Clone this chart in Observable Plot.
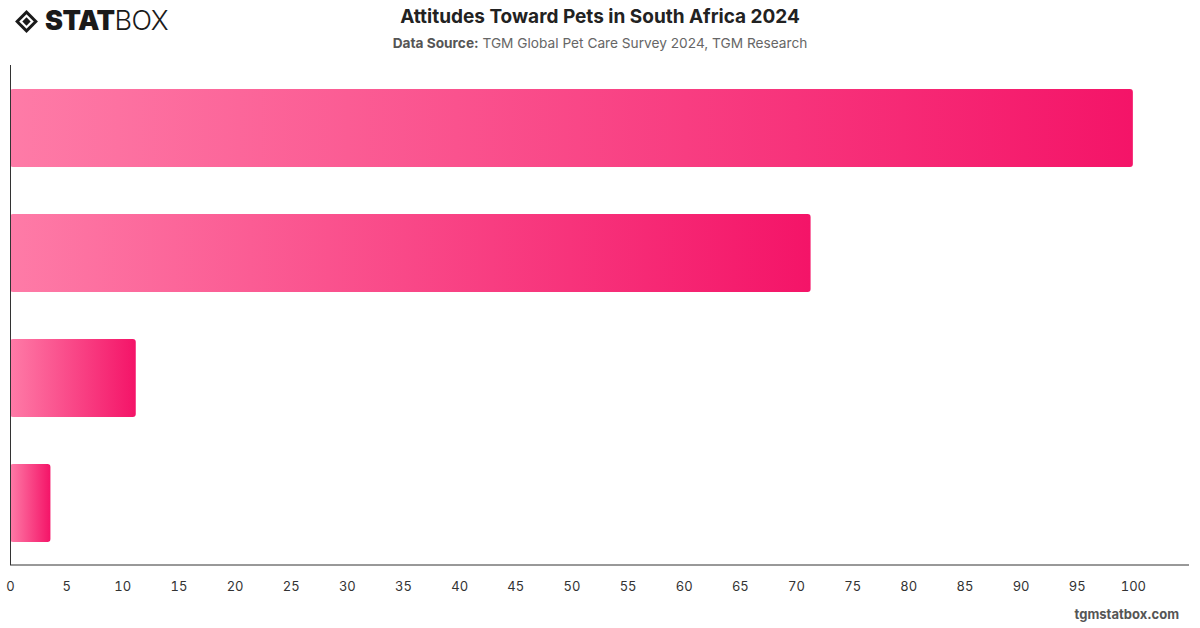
<!DOCTYPE html>
<html>
<head>
<meta charset="utf-8">
<script src="https://cdn.jsdelivr.net/npm/d3@7"></script>
<script src="https://cdn.jsdelivr.net/npm/@observablehq/plot@0.6"></script>
<style>
  html, body { margin: 0; padding: 0; background: #fff; width: 1200px; height: 628px; overflow: hidden; font-family: Inter, "Liberation Sans", sans-serif; }
  #wrap { position: relative; width: 1200px; height: 628px; }
  #logo { position: absolute; left: 14px; top: 7px; display: flex; align-items: center; }
  #logo .word { font-size: 27px; line-height: 28px; color: #1a1a1a; letter-spacing: -0.5px; margin-left: 6px; }
  #logo .word b { font-weight: 900; }
  #logo .word span { font-weight: 300; }
  #title { position: absolute; top: 5px; left: 0; width: 1200px; text-align: center; font-size: 19px; font-weight: 700; color: #222; }
  #subtitle { position: absolute; top: 35px; left: 0; width: 1200px; text-align: center; font-size: 13.7px; color: #666; }
  #subtitle b { font-weight: 700; color: #555; }
  #chart { position: absolute; top: 60px; left: 0; }
  #footer { position: absolute; top: 606px; right: 21px; font-size: 13px; font-weight: 700; color: #555; }
</style>
</head>
<body>
<div id="wrap">
  <div id="logo">
    <svg width="25" height="25" viewBox="0 0 24 24">
      <path d="M12 1 L23 12 L12 23 L1 12 Z" fill="#1a1a1a"/>
      <path d="M12 5 L19 12 L12 19 L5 12 Z" fill="#fff"/>
      <path d="M12 8 L16 12 L12 16 L8 12 Z" fill="#1a1a1a"/>
    </svg>
    <div class="word"><b>STAT</b><span>BOX</span></div>
  </div>
  <div id="title">Attitudes Toward Pets in South Africa 2024</div>
  <div id="subtitle"><b>Data Source:</b> TGM Global Pet Care Survey 2024, TGM Research</div>
  <div id="chart"></div>
  <div id="footer">tgmstatbox.com</div>
</div>
<script>
const categories = ["Statement 1", "Statement 2", "Statement 3", "Statement 4"];
const values = [100, 71.3, 11.2, 3.6];
const xTicks = [0, 5, 10, 15, 20, 25, 30, 35, 40, 45, 50, 55, 60, 65, 70, 75, 80, 85, 90, 95, 100];

const data = categories.map((c, i) => ({category: c, value: values[i]}));

const chart = Plot.plot({
  width: 1200,
  height: 540,
  marginTop: 5,
  marginBottom: 35,
  marginLeft: 10,
  marginRight: 11,
  style: {fontFamily: "Inter, 'Liberation Sans', sans-serif", fontSize: "13px", color: "#333", background: "transparent"},
  x: {domain: [0, 105], ticks: xTicks, tickSize: 0, tickPadding: 16, label: null},
  y: {domain: categories, paddingInner: 0.376, paddingOuter: 0.188, axis: null, label: null},
  marks: [
    Plot.barX(data, {x: "value", y: "category", fill: "url(#barGrad)", rx: 3}),
    Plot.ruleX([0], {stroke: "#333", strokeWidth: 1})
  ]
});

const svg = d3.select(chart);
const defs = svg.insert("defs", ":first-child");
const g = defs.append("linearGradient").attr("id", "barGrad").attr("x1", "0").attr("x2", "1").attr("y1", "0").attr("y2", "0");
g.append("stop").attr("offset", "0%").attr("stop-color", "#fe7ba7");
g.append("stop").attr("offset", "100%").attr("stop-color", "#f41468");

const xs = chart.scale("x");
const ys = chart.scale("y");
const yBottom = Math.max(...ys.range);
svg.append("line")
  .attr("x1", Math.min(...xs.range)).attr("x2", Math.max(...xs.range))
  .attr("y1", yBottom).attr("y2", yBottom)
  .attr("stroke", "#333").attr("stroke-width", 1);

document.getElementById("chart").appendChild(chart);
</script>
</body>
</html>
